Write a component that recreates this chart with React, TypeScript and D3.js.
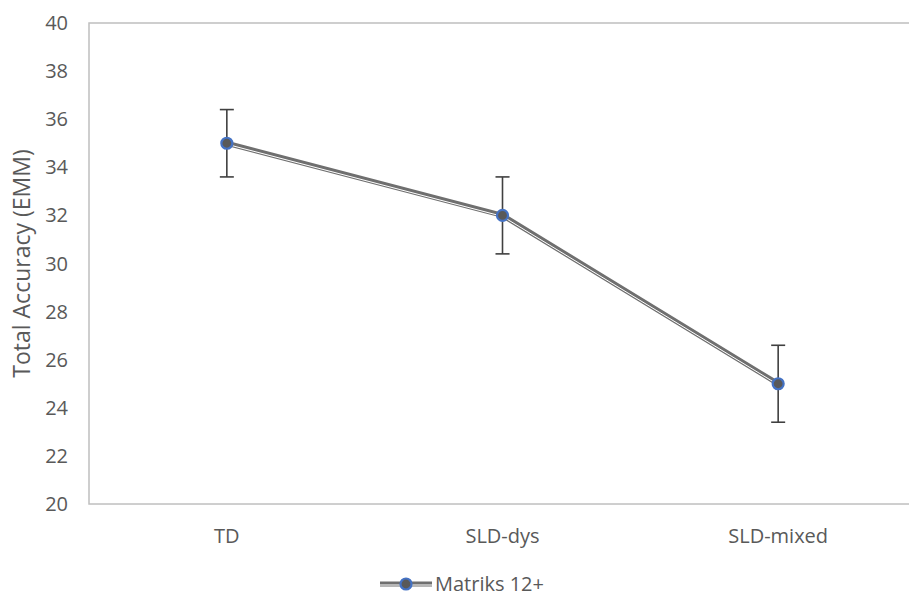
import React, { useRef, useEffect } from "react";
import * as d3 from "d3";

const groups = ["TD", "SLD-dys", "SLD-mixed"];
const emm = [35, 32, 25];
const errs = [1.4, 1.6, 1.6];
const yTicks = [20, 22, 24, 26, 28, 30, 32, 34, 36, 38, 40];
const seriesName = "Matriks 12+";

const App = () => {
  const svgRef = useRef<SVGSVGElement | null>(null);

  useEffect(() => {
    const width = 909;
    const height = 597;
    const margin = { top: 23, right: -7, bottom: 93, left: 89 };
    const font = "'Open Sans', sans-serif";
    const textColor = "#595959";

    const svg = d3.select(svgRef.current);
    svg.selectAll("*").remove();
    svg.attr("width", width).attr("height", height);

    const x = d3
      .scaleBand()
      .domain(groups)
      .range([margin.left, width - margin.right]);
    const y = d3
      .scaleLinear()
      .domain([20, 40])
      .range([height - margin.bottom, margin.top]);

    // plot frame
    svg
      .append("rect")
      .attr("x", margin.left)
      .attr("y", margin.top)
      .attr("width", width - margin.right - margin.left)
      .attr("height", height - margin.bottom - margin.top)
      .attr("fill", "none")
      .attr("stroke", "#bfbfbf")
      .attr("stroke-width", 1.5);

    // y tick labels
    svg
      .append("g")
      .selectAll("text")
      .data(yTicks)
      .enter()
      .append("text")
      .attr("x", 68)
      .attr("y", (d) => y(d))
      .attr("dy", "0.35em")
      .attr("text-anchor", "end")
      .attr("fill", textColor)
      .style("font-family", font)
      .style("font-size", "20px")
      .text((d) => d);

    // category labels
    svg
      .append("g")
      .selectAll("text")
      .data(groups)
      .enter()
      .append("text")
      .attr("x", (d) => (x(d) as number) + x.bandwidth() / 2)
      .attr("y", 543)
      .attr("text-anchor", "middle")
      .attr("fill", textColor)
      .style("font-family", font)
      .style("font-size", "20px")
      .text((d) => d);

    // axis title
    svg
      .append("text")
      .attr("transform", `translate(30, ${(margin.top + height - margin.bottom) / 2}) rotate(-90)`)
      .attr("text-anchor", "middle")
      .attr("fill", textColor)
      .style("font-family", font)
      .style("font-size", "23px")
      .text("Total Accuracy (EMM)");

    const cx = (i: number) => (x(groups[i]) as number) + x.bandwidth() / 2;
    const pts: [number, number][] = emm.map((v, i) => [cx(i), y(v)]);
    const line = d3.line();

    // error bars
    const eb = svg.append("g").attr("stroke", "#404040").attr("stroke-width", 1.6);
    emm.forEach((v, i) => {
      const xc = cx(i);
      eb.append("line").attr("x1", xc).attr("x2", xc).attr("y1", y(v - errs[i])).attr("y2", y(v + errs[i]));
      eb.append("line").attr("x1", xc - 7).attr("x2", xc + 7).attr("y1", y(v + errs[i])).attr("y2", y(v + errs[i]));
      eb.append("line").attr("x1", xc - 7).attr("x2", xc + 7).attr("y1", y(v - errs[i])).attr("y2", y(v - errs[i]));
    });

    // double (compound) line
    svg
      .append("path")
      .attr("d", line(pts))
      .attr("fill", "none")
      .attr("stroke", "#6f6f6f")
      .attr("stroke-width", 5);
    svg
      .append("path")
      .attr("d", line(pts.map(([a, b]) => [a, b + 1] as [number, number])))
      .attr("fill", "none")
      .attr("stroke", "#ffffff")
      .attr("stroke-width", 1);

    // markers
    svg
      .append("g")
      .selectAll("circle")
      .data(pts)
      .enter()
      .append("circle")
      .attr("cx", (d) => d[0])
      .attr("cy", (d) => d[1])
      .attr("r", 5.5)
      .attr("fill", "#595959")
      .attr("stroke", "#4472c4")
      .attr("stroke-width", 2.2);

    // legend
    const ly = 584;
    const lg = svg.append("g");
    lg.append("line").attr("x1", 380).attr("x2", 432).attr("y1", ly).attr("y2", ly)
      .attr("stroke", "#6f6f6f").attr("stroke-width", 5);
    lg.append("line").attr("x1", 380).attr("x2", 432).attr("y1", ly + 1).attr("y2", ly + 1)
      .attr("stroke", "#ffffff").attr("stroke-width", 1);
    lg.append("circle").attr("cx", 406).attr("cy", ly).attr("r", 5.5)
      .attr("fill", "#595959").attr("stroke", "#4472c4").attr("stroke-width", 2.2);
    lg.append("text")
      .attr("x", 435)
      .attr("y", ly)
      .attr("dy", "0.35em")
      .attr("fill", textColor)
      .style("font-family", font)
      .style("font-size", "20px")
      .text(seriesName);
  }, []);

  return (
    <svg
      ref={svgRef}
      style={{ position: "absolute", left: 0, top: 0, display: "block" }}
    ></svg>
  );
};

export default App;
